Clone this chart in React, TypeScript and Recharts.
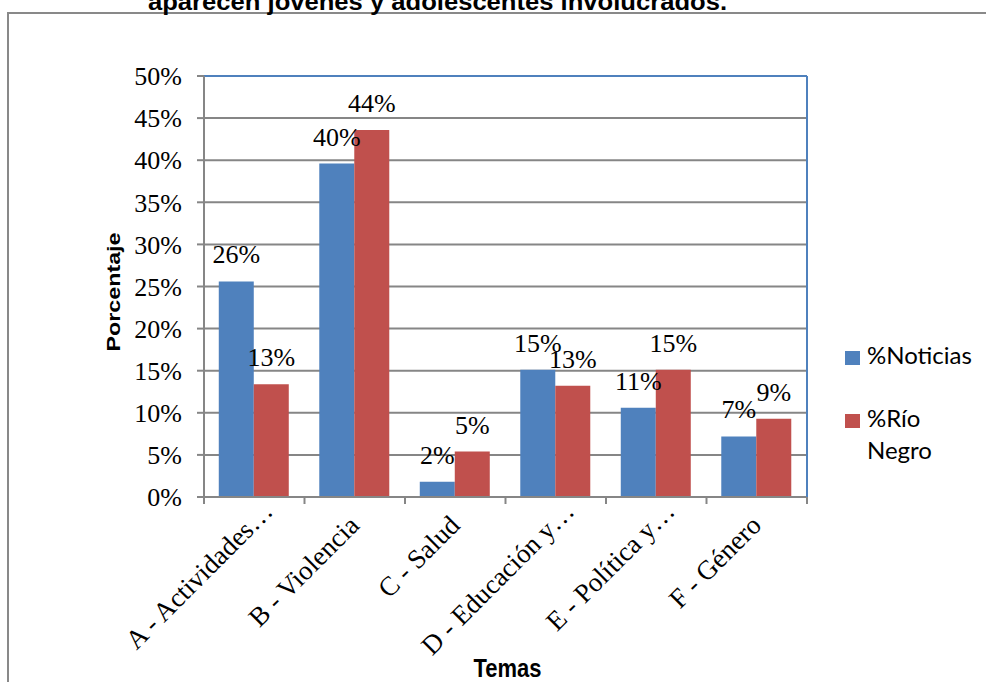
import React from "react";
import {
  BarChart,
  Bar,
  XAxis,
  YAxis,
  CartesianGrid,
  LabelList,
  Legend,
  ReferenceLine,
} from "recharts";

// Temas y porcentajes
const categories = [
  "A - Actividades…",
  "B - Violencia",
  "C - Salud",
  "D - Educación y…",
  "E - Política y…",
  "F - Género",
];
const noticias = [25.6, 39.6, 1.8, 15.1, 10.6, 7.2];
const rioNegro = [13.4, 43.6, 5.4, 13.2, 15.1, 9.3];
const yTicks = [0, 5, 10, 15, 20, 25, 30, 35, 40, 45, 50];

const data = categories.map((tema, i) => ({
  tema,
  noticias: noticias[i],
  rio: rioNegro[i],
}));

const BLUE = "#4F81BD";
const RED = "#C0504D";
const GRID = "#868686";
const SERIF = "'Liberation Serif', 'Times New Roman', serif";
const SANS = "'Liberation Sans', Arial, sans-serif";

function TemaTick(props: any) {
  const { x, y, payload, index } = props;
  const half = payload.offset ?? 50.25;
  const cut = String(payload.value).endsWith("…");
  const last = index === categories.length - 1;
  return (
    <g>
      <line x1={x - half} x2={x - half} y1={y} y2={y + 7} stroke={GRID} strokeWidth={2} />
      {last && <line x1={x + half} x2={x + half} y1={y} y2={y + 7} stroke={GRID} strokeWidth={2} />}
      <text
        transform={`translate(${x + 6},${y + 30}) rotate(-45)`}
        textAnchor="end"
        dx={cut ? 20 : 0}
        fontFamily={SERIF}
        fontSize={27}
        fill="#000"
      >
        {payload.value}
      </text>
    </g>
  );
}

// etiqueta de dato sobre cada barra, en serif como el original
function PctLabel(props: any) {
  const { x, y, width, value } = props;
  return (
    <text
      x={Number(x) + Number(width) / 2}
      y={Number(y) - 18}
      textAnchor="middle"
      fontFamily={SERIF}
      fontSize={26}
      fill="#000"
    >
      {`${Math.round(Number(value))}%`}
    </text>
  );
}

function LegendBox({ payload }: any) {
  return (
    <div style={{ fontFamily: "Lato, 'Open Sans', sans-serif", fontSize: 24, lineHeight: "32px", color: "#000" }}>
      {(payload || []).map((p: any) => (
        <div key={p.value} style={{ display: "flex", alignItems: "flex-start", marginBottom: 31 }}>
          <div style={{ width: 15, height: 14, marginTop: 12, marginRight: 7, background: p.color, flex: "none" }} />
          <div style={{ width: 110 }}>{p.value}</div>
        </div>
      ))}
    </div>
  );
}

export default function App() {
  return (
    <div style={{ position: "absolute", left: 0, top: 0, width: 986, height: 682, overflow: "hidden", background: "#fff" }}>
      <div
        style={{
          position: "absolute",
          left: 7,
          top: 12,
          width: 1100,
          height: 800,
          border: "2px solid #898989",
        }}
      />
      <svg width={986} height={30} style={{ position: "absolute", left: 0, top: 0 }}>
        <text x={148} y={9.5} fontFamily={SANS} fontWeight="bold" fontSize={24} textLength={579} lengthAdjust="spacingAndGlyphs" fill="#000">
          aparecen jóvenes y adolescentes involucrados.
        </text>
      </svg>
      <div style={{ position: "absolute", left: 0, top: 0 }}>
        <BarChart
          width={986}
          height={682}
          data={data}
          margin={{ top: 76, right: 178, bottom: 35, left: 114 }}
          barCategoryGap="14.7%"
          barGap={0}
        >
          <CartesianGrid vertical={false} stroke={GRID} strokeWidth={2} />
          <XAxis
            dataKey="tema"
            height={150}
            interval={0}
            tickSize={0}
            tickMargin={0}
            tickLine={false}
            axisLine={{ stroke: GRID, strokeWidth: 2 }}
            tick={<TemaTick />}
            label={{
              content: ({ viewBox }: any) => (
                <text
                  x={viewBox.x + viewBox.width / 2 + 2}
                  y={viewBox.y + 180}
                  textAnchor="middle"
                  fontFamily={SANS}
                  fontWeight="bold"
                  fontSize={25}
                  textLength={68}
                  lengthAdjust="spacingAndGlyphs"
                  fill="#000"
                >
                  Temas
                </text>
              ),
            }}
          />
          <YAxis
            width={90}
            domain={[0, 50]}
            ticks={yTicks}
            interval={0}
            tickFormatter={(v: number) => `${v}%`}
            tick={{ fontFamily: SERIF, fontSize: 26, fill: "#000" }}
            tickSize={7}
            tickMargin={15}
            tickLine={{ stroke: GRID, strokeWidth: 2 }}
            axisLine={{ stroke: GRID, strokeWidth: 2 }}
            label={{
              content: ({ viewBox }: any) => {
                const cx = viewBox.x + 5.5;
                const cy = viewBox.y + viewBox.height / 2 + 5.5;
                return (
                  <text
                    transform={`translate(${cx},${cy}) rotate(-90)`}
                    textAnchor="middle"
                    fontFamily={SANS}
                    fontWeight="bold"
                    fontSize={19}
                    textLength={119}
                    lengthAdjust="spacingAndGlyphs"
                    fill="#000"
                  >
                    Porcentaje
                  </text>
                );
              },
            }}
          />
          <YAxis
            yAxisId="borde"
            orientation="right"
            width={1}
            domain={[0, 50]}
            tick={false}
            tickLine={false}
            axisLine={{ stroke: BLUE, strokeWidth: 2 }}
          />
          <ReferenceLine y={50} stroke={BLUE} strokeWidth={2} />
          <Legend
            layout="vertical"
            align="center"
            verticalAlign="middle"
            width={140}
            wrapperStyle={{ left: 845, top: 339 }}
            content={<LegendBox />}
          />
          <Bar dataKey="noticias" name="%Noticias" fill={BLUE} isAnimationActive={false}>
            <LabelList dataKey="noticias" content={<PctLabel />} />
          </Bar>
          <Bar dataKey="rio" name="%Río Negro" fill={RED} isAnimationActive={false}>
            <LabelList dataKey="rio" content={<PctLabel />} />
          </Bar>
        </BarChart>
      </div>
    </div>
  );
}
